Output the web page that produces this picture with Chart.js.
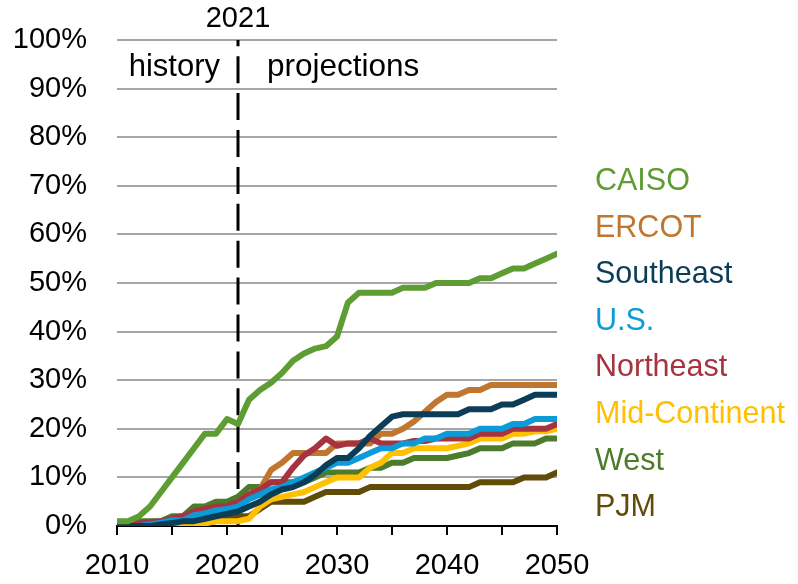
<!DOCTYPE html>
<html>
<head>
<meta charset="utf-8">
<script src="https://cdn.jsdelivr.net/npm/chart.js@4.4.1/dist/chart.umd.min.js"></script>
<style>
  body { margin: 0; background: #fff; }
</style>
</head>
<body>
<canvas id="myChart" width="798" height="584"></canvas>
<script>
var years = [2010,2011,2012,2013,2014,2015,2016,2017,2018,2019,
             2020,2021,2022,2023,2024,2025,2026,2027,2028,2029,
             2030,2031,2032,2033,2034,2035,2036,2037,2038,2039,
             2040,2041,2042,2043,2044,2045,2046,2047,2048,2049,2050];

var splitYear = 2021;

var regions = ['CAISO','ERCOT','Southeast','U.S.','Northeast','Mid-Continent','West','PJM'];

// share (%) by year, 2010-2050
var caiso = [1,1,2,4,7,10,13,16,19,19, 22,21,26,28,29.5,31.5,34,35.5,36.5,37,
             39,46,48,48,48,48,49,49,49,50, 50,50,50,51,51,52,53,53,54,55, 56];
var ercot = [0,0,0,0,0,0.5,1,2,2.5,3, 3.5,5,6.5,7.5,11.5,13,15,15,15,15,
             17,17,17,17,19,19,20,21.5,23.5,25.5, 27,27,28,28,29,29,29,29,29,29, 29];
var southeast = [0,0,0,0,0.3,0.6,1,1,1.5,2, 2.5,3,4,5,6.5,7.5,8,9,10.5,12.5,
             14,14,16,18.5,20.5,22.5,23,23,23,23, 23,23,24,24,24,25,25,26,27,27, 27];
var us = [0,0,0,0.3,0.7,1.2,1.2,2.2,2.6,3.2, 3.5,4,5.5,6.5,7.5,8,9,10,11,12,
             13,13,14,15,16,16,17,17,18,18, 19,19,19,20,20,20,21,21,22,22, 22];
var northeast = [0.5,0.5,0.5,0.8,1,1.5,2,3,3.5,4, 4,5,6.5,7.5,9,9,12,14.5,16,18,
             16.5,17,17,18,17,17,17,17.5,17.5,18, 18,18,18,19,19,19,20,20,20,20, 21];
var midContinent = [0,0,0,0,0,0,0,0.3,0.5,1, 1,1,1.5,4,5.5,6,6.5,7,8,9,
             10,10,10,12,13,15,15,16,16,16, 16,16.5,17,18,18,18,19,19,19.5,19.5, 20];
var west = [0,0,1,1,1,2,2,4,4,5, 5,6,8,8,9,9,9,9,10,11,
             11,11,11,12,12,13,13,14,14,14, 14,14.5,15,16,16,16,17,17,17,18, 18];
var pjm = [0,0,0,0,0,0,0,0.3,0.6,1, 1.5,2,2,3.5,5,5,5,5,6,7,
             7,7,7,8,8,8,8,8,8,8, 8,8,8,9,9,9,9,10,10,10, 11];

var seriesValues = [caiso, ercot, southeast, us, northeast, midContinent, west, pjm];
var colors = ['#5E9C34','#C0762F','#0C3D58','#0A9BD8','#A6333F','#FFC000','#4C7B2B','#614B08'];
var drawOrder = [0, 4, 1, 2, 3, 5, 6, 7];

var FONT = '"Liberation Sans", Arial, sans-serif';

function toPoints(values){
  return years.map(function(yr, i){ return {x: yr, y: values[i]}; });
}

var datasets = regions.map(function(name, i){
  return {
    label: name,
    data: toPoints(seriesValues[i]),
    borderColor: colors[i],
    borderWidth: 6,
    borderJoinStyle: 'round',
    borderCapStyle: 'round',
    pointRadius: 0,
    tension: 0,
    order: drawOrder[i]
  };
});

// the history / projections divider
datasets.push({
  label: 'divider',
  data: [{x: splitYear, y: 0}, {x: splitYear, y: 100}],
  borderColor: '#000',
  borderWidth: 3,
  borderDash: [27, 9.9],
  pointRadius: 0,
  order: 20
});

var textPlugin = {
  id: 'textPlugin',
  afterDraw: function(chart){
    var ctx = chart.ctx;
    var x = chart.scales.x.getPixelForValue(splitYear);
    ctx.save();
    ctx.fillStyle = '#000';
    ctx.textBaseline = 'alphabetic';
    ctx.font = '29px ' + FONT;
    ctx.textAlign = 'center';
    ctx.fillText(String(splitYear), x, 27);
    ctx.font = '31px ' + FONT;
    ctx.textAlign = 'right';
    ctx.fillText('history', x - 18, 76);
    ctx.textAlign = 'left';
    ctx.font = '31.5px ' + FONT;
    ctx.fillText('projections', x + 29, 76);

    // region names down the right hand side
    ctx.font = '30.5px ' + FONT;
    for (var i = 0; i < regions.length; i++){
      ctx.fillStyle = colors[i];
      ctx.fillText(regions[i], chart.chartArea.right + 38, 190 + i * 46.6);
    }
    ctx.restore();
  }
};

var ctx = document.getElementById('myChart').getContext('2d');
var myChart = new Chart(ctx, {
  type: 'line',
  data: { datasets: datasets },
  options: {
    responsive: false,
    animation: false,
    devicePixelRatio: 1,
    layout: { padding: { top: 40, right: 241, left: 0, bottom: 0 } },
    plugins: {
      legend: { display: false },
      tooltip: { enabled: false }
    },
    scales: {
      x: {
        type: 'linear',
        min: 2010,
        max: 2050,
        afterFit: function(scale){ scale.height = 58; },
        ticks: {
          stepSize: 5,
          autoSkip: false,
          maxRotation: 0,
          padding: 14,
          color: '#000',
          font: { family: FONT, size: 29 },
          callback: function(v){ return v % 10 === 0 ? String(v) : ''; }
        },
        grid: {
          drawOnChartArea: false,
          drawTicks: true,
          tickLength: 9,
          color: '#000',
          lineWidth: 2
        },
        border: { display: true, color: '#000', width: 2 }
      },
      y: {
        min: 0,
        max: 100,
        afterFit: function(scale){
          scale.width = 117;
          scale.paddingTop = 0;
          scale.paddingBottom = 0;
        },
        ticks: {
          stepSize: 10,
          padding: 30,
          color: '#000',
          font: { family: FONT, size: 29 },
          callback: function(v){ return v + '%'; }
        },
        grid: {
          drawTicks: false,
          color: '#A6A6A6',
          lineWidth: 2
        },
        border: { display: false }
      }
    }
  },
  plugins: [textPlugin]
});
</script>
</body>
</html>
